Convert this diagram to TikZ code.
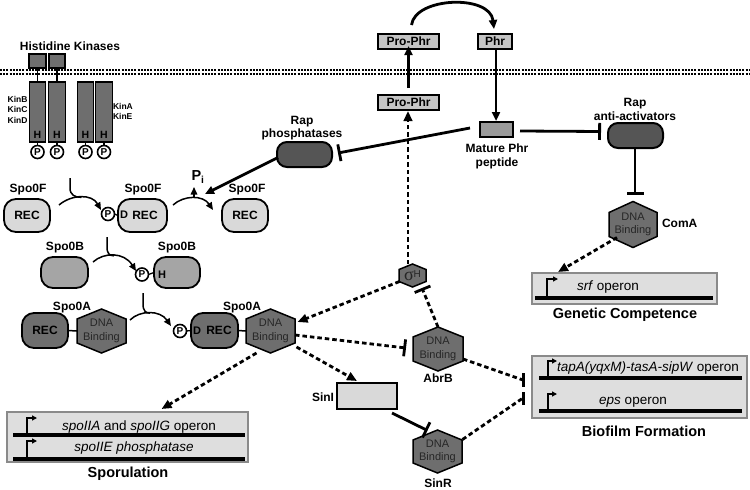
\documentclass[tikz,border=0pt]{standalone}
\usepackage{fontspec}
\setmainfont{Liberation Sans}
\newfontfamily\greekserif{Liberation Serif}
\usetikzlibrary{arrows.meta,calc}
\definecolor{dkgray}{HTML}{6E6E6E}
\definecolor{rapgray}{HTML}{555555}
\definecolor{ltgray}{HTML}{D9D9D9}
\definecolor{midgray}{HTML}{A5A5A5}
\definecolor{phrgray}{HTML}{C4C4C4}
\definecolor{matgray}{HTML}{9A9A9A}
\definecolor{genefill}{HTML}{DEDEDE}
\definecolor{geneborder}{HTML}{8A8A8A}
\newcommand{\hexnode}[6]{%
  \path[hexshape] (#2) ++(0,-#4) -- ++(#3,#4-#5) -- ++(0,2*#5) -- ++(-#3,#4-#5) -- ++(-#3,-#4+#5) -- ++(0,-2*#5) -- cycle;
  \node[hextext, minimum width=2*#3, minimum height=2*#4] (#1) at (#2) {#6};
}
\begin{document}
\begin{tikzpicture}[x=1pt,y=-1pt,
  every node/.style={inner sep=0pt, outer sep=0pt},
  lbl/.style={font=\fontsize{12}{13.5}\selectfont\bfseries, align=center},
  bolda/.style={font=\fontsize{11}{11}\selectfont\bfseries},
  kinlbl/.style={font=\fontsize{8.5}{10.5}\selectfont\bfseries},
  ttl/.style={font=\fontsize{14.5}{16}\selectfont\bfseries},
  genetxt/.style={font=\fontsize{13.5}{15}\selectfont},
  pill/.style={draw, line width=1.8pt, rounded corners=12pt, font=\fontsize{12}{13}\selectfont\bfseries},
  sqbox/.style={draw, line width=1.4pt, font=\fontsize{12}{13}\selectfont\bfseries},
  kbar/.style={draw, line width=1.3pt, fill=dkgray},
  pcirc/.style={circle, draw, line width=1.6pt, fill=white, minimum size=13pt, font=\fontsize{10}{10}\selectfont\bfseries},
  hexshape/.style={draw, line width=1.5pt, fill=dkgray},
  hextext/.style={font=\fontsize{11}{13.5}\selectfont, align=center, text=black!85},
  solidline/.style={line width=2.8pt},
  act/.style={solidline, -{Triangle[length=9pt,width=8pt]}},
  inhib/.style={solidline, -{Bar[width=17pt]}},
  dashline/.style={line width=2.8pt, dash pattern=on 4.5pt off 3pt},
  dashact/.style={dashline, -{Triangle[length=10pt,width=8.5pt]}},
  dashinhib/.style={dashline, -{Bar[width=17pt]}},
  rxn/.style={line width=1.5pt},
  rxnact/.style={rxn, -{Triangle[length=7.5pt,width=6.5pt]}},
  genebox/.style={draw=geneborder, fill=genefill, line width=1.8pt},
  geneline/.style={line width=3.2pt},
  prom/.style={line width=2.4pt, -{Triangle[length=5pt,width=5pt]}},
  membrane/.style={line width=1.7pt, dash pattern=on 2pt off 1.2pt},
  barline/.style={line width=3pt},
]
\fill[white] (0,0) rectangle (750,490);
\useasboundingbox (0,0) rectangle (750,490);

% membrane
\draw[membrane] (0,70) -- (750,70);
\draw[membrane] (0,74) -- (750,74);

% kinases
\node[lbl] (hk) at (70,46) {Histidine Kinases};
\node[kbar, minimum width=17, minimum height=14] (k1e) at (37.5,61) {};
\node[kbar, minimum width=16, minimum height=14] (k2e) at (57,61) {};
\foreach \n/\x in {1/37.5,2/57,3/85.5,4/104} {
  \node[kbar, minimum width=16.5, minimum height=60] (k\n) at (\x,112) {};
  \node[font=\fontsize{10.5}{10.5}\selectfont\bfseries] (kH\n) at (\x,135) {H};
  \node[pcirc] (kP\n) at (\x,152) {P};
  \draw[line width=1.3pt] (k\n.south) -- (kP\n.north);
}
\draw[line width=1.3pt] (k1e.south) -- (k1.north);
\draw[line width=1.3pt] (k2e.south) -- (k2.north);
\node[kinlbl, anchor=east, align=right] (kinbcd) at (27.5,109.5) {KinB\\KinC\\KinD};
\node[kinlbl, anchor=west, align=left] (kinae) at (113,111.5) {KinA\\KinE};

% Spo0F
\node[pill, fill=ltgray, minimum width=46, minimum height=33] (f1) at (27,215.5) {REC};
\node[lbl] (f1l) at (28,190) {Spo0F};
\node[pill, fill=ltgray, minimum width=49, minimum height=33] (f2) at (142.5,215.5) {};
\node[font=\fontsize{12}{13}\selectfont\bfseries] (f2rec) at (145,215.5) {REC};
\node[bolda] (fD) at (124,215) {D};
\node[pcirc] (fP) at (108,214) {P};
\draw[line width=1.3pt] (fP.east) -- (f2.west);
\node[lbl] (f2l) at (143,190) {Spo0F};
\node[pill, fill=ltgray, minimum width=46, minimum height=33] (f3) at (245,215.5) {REC};
\node[lbl] (f3l) at (247,190) {Spo0F};

% Spo0B
\node[pill, fill=midgray, minimum width=47, minimum height=31] (b1) at (64.5,272.5) {};
\node[lbl] (b1l) at (65,248) {Spo0B};
\node[pill, fill=midgray, minimum width=46, minimum height=31] (b2) at (177,272.5) {};
\node[lbl] (b2l) at (177,248) {Spo0B};
\node[pcirc] (bP) at (142,274.5) {P};
\node[bolda] (bH) at (162,274.5) {H};
\draw[line width=1.3pt] (bP.east) -- (b2.west);

% Spo0A
\node[pill, fill=dkgray, minimum width=46, minimum height=35] (a1) at (45,330.5) {REC};
\hexnode{a1x}{101.5,331}{24.5}{22}{12}{DNA\\Binding}
\draw[line width=1.5pt] (a1.east) -- (a1x.west);
\node[lbl] (a1l) at (72,308) {Spo0A};
\node[pill, fill=dkgray, minimum width=47, minimum height=35] (a2) at (214.5,330.5) {};
\node[font=\fontsize{12}{13}\selectfont\bfseries] (a2rec) at (219,330.5) {REC};
\node[bolda] (aD) at (197,331) {D};
\node[pcirc] (aP) at (180,331) {P};
\draw[line width=1.3pt] (aP.east) -- (a2.west);
\hexnode{a2x}{270.5,331}{24.5}{22}{12}{DNA\\Binding}
\draw[line width=1.5pt] (a2.east) -- (a2x.west);
\node[lbl] (a2l) at (242,308) {Spo0A};

% reaction arcs
\draw[rxnact] (59,205) .. controls (72,194) and (92,194) .. (101,210);
\draw[rxn] (70,178) -- (70,188) .. controls (70,195) and (75,197.4) .. (81.5,197.4);
\draw[rxnact] (173,205) .. controls (184,195) and (203,195) .. (213,210);
\draw[rxnact] (194,197) -- (194,187);
\node[font=\fontsize{14.5}{14.5}\selectfont\bfseries] (pi) at (198,177) {P\textsubscript{i}};
\draw[rxnact] (93,262) .. controls (104,252) and (124,252) .. (136,271);
\draw[rxn] (107,237) -- (107,247) .. controls (107,254) and (110,255.8) .. (114,255.8);
\draw[rxnact] (130,320) .. controls (140,310) and (160,310) .. (171,326);
\draw[rxn] (143,293) -- (143,304) .. controls (143,311) and (146,313.2) .. (150,313.2);

% sigma H, AbrB, SinR, ComA, SinI
\hexnode{sig}{412.5,275.5}{13.5}{11.5}{6}{{\greekserif\fontsize{18}{18}\selectfont σ}\raisebox{3.5pt}{\fontsize{10}{10}\selectfont H}}
\hexnode{abrB}{438,349}{25}{22}{12}{DNA\\Binding}
\node[lbl] (abrBl) at (438,378) {AbrB};
\hexnode{sinR}{437.5,451.5}{24.5}{21.5}{11.5}{DNA\\Binding}
\node[lbl] (sinRl) at (438,483) {SinR};
\hexnode{comA}{633,224.5}{24}{23}{12}{DNA\\Binding}
\node[lbl, anchor=west] (comAl) at (662,223) {ComA};
\node[sqbox, fill=ltgray, line width=2pt, minimum width=60, minimum height=26] (sinI) at (367,396) {};
\node[lbl, anchor=east] (sinIl) at (334,397) {SinI};

% Rap proteins
\node[pill, fill=rapgray, line width=2pt, rounded corners=10pt, minimum width=55, minimum height=25] (rapP) at (304.5,154.5) {};
\node[lbl, font=\fontsize{12}{13}\selectfont\bfseries] (rapPl) at (302,128.5) {Rap\\phosphatases};
\node[pill, fill=rapgray, line width=2pt, rounded corners=10pt, minimum width=55, minimum height=25] (rapA) at (635.5,135.5) {};
\node[lbl, font=\fontsize{12}{14}\selectfont\bfseries] (rapAl) at (635,109) {Rap\\anti-activators};

% Phr
\node[sqbox, fill=phrgray, minimum width=61, minimum height=15] (pp1) at (408.5,41.5) {Pro-Phr};
\node[sqbox, fill=phrgray, minimum width=61, minimum height=15] (pp2) at (408.5,102.5) {Pro-Phr};
\node[sqbox, fill=phrgray, minimum width=34, minimum height=15] (phr) at (495,41.5) {Phr};
\node[sqbox, fill=matgray, minimum width=33, minimum height=15] (mat) at (496.5,129.5) {};
\node[lbl, font=\fontsize{12}{14}\selectfont\bfseries] (matl) at (497,156) {Mature Phr\\peptide};

% gene boxes
\node[genebox, minimum width=241, minimum height=50] (spor) at (127.5,437) {};
\draw[geneline] (13,435) -- (245,435);
\draw[geneline] (13,459) -- (245,459);
\draw[prom] (27,435) -- (27,418) -- (37,418);
\draw[prom] (27,459) -- (27,441) -- (37,441);
\node[genetxt] (sporg1) at (139,427) {\textit{spoIIA} and \textit{spoIIG} operon};
\node[genetxt] (sporg2) at (134,448) {\textit{spoIIE phosphatase}};
\node[ttl] (sporl) at (128,474) {Sporulation};

\node[genebox, minimum width=185, minimum height=31] (comp) at (624.5,288.5) {};
\draw[geneline] (535,298) -- (713,298);
\draw[prom] (547,298) -- (547,279) -- (558,279);
\node[genetxt] (srf) at (608,287) {\textit{srf} operon};
\node[ttl] (compl) at (625,315) {Genetic Competence};

\node[genebox, minimum width=215, minimum height=62] (bio) at (639.5,387) {};
\draw[geneline] (539,378) -- (742,378);
\draw[geneline] (539,411) -- (742,411);
\draw[prom] (548,378) -- (548,361) -- (557,361);
\draw[prom] (548,411) -- (548,394) -- (557,394);
\node[genetxt] (tapA) at (648,368) {\textit{tapA(yqxM)-tasA-sipW} operon};
\node[genetxt] (eps) at (633,402) {\textit{eps} operon};
\node[ttl] (biol) at (644,431) {Biofilm Formation};

% solid connectors
\draw[act] ($(pp2.north)+(0,-7)$) -- ($(pp1.south)+(0,-3)$);
\draw[act] ($(pp1.north)+(3,-9)$) .. controls (415,-3) and (490,-6) .. ($(phr.north)+(-1,-5)$);
\draw[act] ($(phr.south)+(1,-1)$) -- ($(mat.north)+(-0.5,-1)$);
\draw[inhib] ($(mat.west)+(-10,-1.5)$) -- ($(rapP.east)+(6,-1.5)$);
\draw[inhib] ($(mat.east)+(7,1.5)$) -- ($(rapA.west)+(-7,-4)$);
\draw[inhib] ($(rapA.south)+(-0.5,0)$) -- ($(comA.north)+(2,-7)$);
\draw[act] ($(rapP.west)+(1,3)$) -- (205,194);
\draw[inhib] ($(sinI.south east)+(-5,4)$) -- ($(sinR)+(-10,-21)$);

% dashed connectors
\draw[dashact] ($(sig)+(-13,6)$) -- ($(a2x)+(27,-9)$);
\draw[dashact] ($(sig.north)+(-4.5,0)$) -- ($(pp2.south)+(-0.5,1)$);
\draw[dashinhib] (abrB.north) -- ($(sig)+(9.5,12.5)$);
\draw[dashinhib] ($(a2x.east)+(0,4)$) -- ($(abrB.west)+(-7,-1)$);
\draw[dashact] ($(a2x)+(26,16)$) -- ($(sinI.north west)+(20,-2)$);
\draw[dashact] ($(a2x)+(-14,22)$) -- ($(spor.north)+(34,-3)$);
\draw[dashact] ($(comA)+(-16,13)$) -- ($(comp.north west)+(26,-1)$);
\coordinate (bioA) at ($(bio.west)+(-9,-7)$);
\coordinate (bioS) at ($(bio.west)+(-9,11)$);
\draw[dashline] ($(abrB.east)+(0,10)$) -- (bioA);
\draw[barline] ($(bioA)+(0,-7)$) -- ($(bioA)+(0,7)$);
\draw[dashline] ($(sinR)+(25,-12)$) -- (bioS);
\draw[barline] ($(bioS)+(0,-6)$) -- ($(bioS)+(0,7)$);
\end{tikzpicture}
\end{document}
